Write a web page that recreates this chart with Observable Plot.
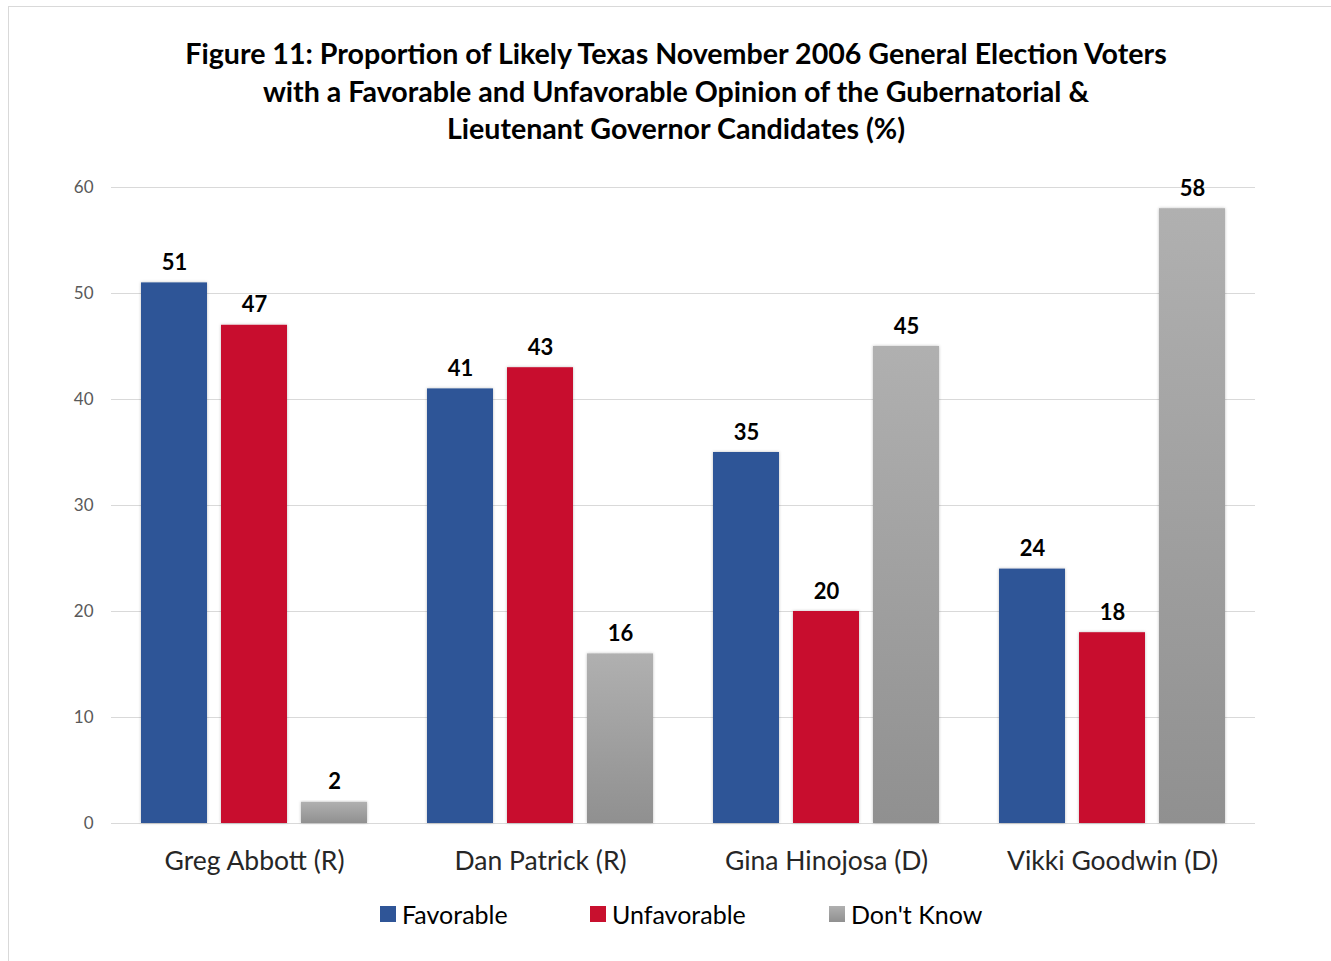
<!DOCTYPE html>
<html>
<head>
<meta charset="utf-8">
<script src="https://cdn.jsdelivr.net/npm/d3@7"></script>
<script src="https://cdn.jsdelivr.net/npm/@observablehq/plot@0.6"></script>
<style>
  body { margin: 0; background: #fff; font-family: Lato, "Open Sans", sans-serif; }
  #frame { position: absolute; left: 8px; top: 6px; width: 1340px; height: 1000px; border: 1px solid #d9d9d9; box-sizing: border-box; }
  #title { position: absolute; left: 126px; width: 1100px; top: 35px; text-align: center; font-weight: bold; font-size: 28.6px; line-height: 37.5px; color: #000; }
  #chart { position: absolute; left: 0; top: 150px; }
  .leg { position: absolute; top: 899px; font-size: 25px; color: #000; display: flex; align-items: center; white-space: nowrap; }
  .sw { width: 16px; height: 16px; margin-right: 6px; display: inline-block; }
</style>
</head>
<body>
<div id="frame"></div>
<div id="title">Figure 11: Proportion of Likely Texas November 2006 General Election Voters<br>with a Favorable and Unfavorable Opinion of the Gubernatorial &amp;<br>Lieutenant Governor Candidates (%)</div>
<div id="chart"></div>
<div id="legend"></div>
<script>
const candidates = ["Greg Abbott (R)", "Dan Patrick (R)", "Gina Hinojosa (D)", "Vikki Goodwin (D)"];
const series = ["Favorable", "Unfavorable", "Don't Know"];
const favorable = [51, 41, 35, 24];
const unfavorable = [47, 43, 20, 18];
const dontKnow = [2, 16, 45, 58];
const yTicks = [0, 10, 20, 30, 40, 50, 60];
const colors = ["#2f5597", "#c8102e", "url(#grayGrad)"];

const values = [favorable, unfavorable, dontKnow];
const data = [];
candidates.forEach((c, i) => {
  series.forEach((s, j) => data.push({candidate: c, series: s, value: values[j][i]}));
});

const svg = Plot.plot({
  width: 1331,
  height: 733,
  marginLeft: 109,
  marginRight: 75,
  marginTop: 37,
  marginBottom: 60,
  style: {fontFamily: "Lato, 'Open Sans', sans-serif", overflow: "visible"},
  fx: {domain: candidates, padding: 0, label: null},
  x: {domain: series, paddingInner: 0.17, paddingOuter: 0.37, axis: null},
  y: {domain: [0, 60], label: null},
  color: {domain: series, range: colors},
  marks: [
    Plot.gridY(yTicks, {stroke: "#d9d9d9", strokeOpacity: 1, strokeWidth: 1.2}),
    Plot.axisY(yTicks, {tickSize: 0, tickPadding: 18, fontSize: 17, fill: "#595959", label: null}),
    Plot.axisFx({anchor: "bottom", tickSize: 0, tickPadding: 28, fontSize: 26.5, fill: "#262626", label: null}),
    Plot.barY(data, {fx: "candidate", x: "series", y: "value", fill: "series"}),
    Plot.text(data, {fx: "candidate", x: "series", y: "value", text: d => String(d.value), dy: -13, lineAnchor: "bottom", fontWeight: "bold", fontSize: 22, fill: "#000"})
  ]
});

const defs = d3.select(svg).insert("defs", ":first-child");
const g = defs.append("linearGradient").attr("id", "grayGrad").attr("x1", 0).attr("y1", 0).attr("x2", 0).attr("y2", 1);
g.append("stop").attr("offset", "0%").attr("stop-color", "#b0b0b0");
g.append("stop").attr("offset", "100%").attr("stop-color", "#909090");
const f = defs.append("filter").attr("id", "shadow").attr("x", "-20%").attr("y", "-5%").attr("width", "140%").attr("height", "110%");
f.append("feDropShadow").attr("dx", 0).attr("dy", 0).attr("stdDeviation", 1.5).attr("flood-color", "#000").attr("flood-opacity", 0.25);
d3.select(svg).selectAll("g[aria-label='bar'] rect").attr("filter", "url(#shadow)");

document.getElementById("chart").appendChild(svg);

const legend = document.getElementById("legend");
const legendLeft = [380, 590, 829];
const legendFill = ["#2f5597", "#c8102e", "linear-gradient(#b0b0b0, #909090)"];
series.forEach((s, i) => {
  const item = document.createElement("div");
  item.className = "leg";
  item.style.left = legendLeft[i] + "px";
  const sw = document.createElement("span");
  sw.className = "sw";
  sw.style.background = legendFill[i];
  item.appendChild(sw);
  item.appendChild(document.createTextNode(s));
  legend.appendChild(item);
});
</script>
</body>
</html>
